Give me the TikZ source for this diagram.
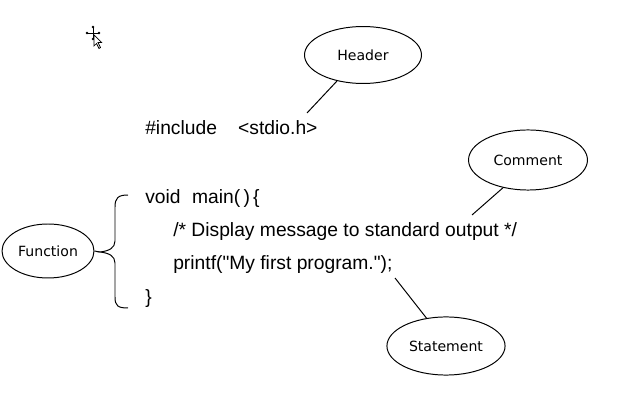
\documentclass[tikz,border=0pt]{standalone}
\usepackage{fontspec}
\setmainfont{Liberation Sans}
\newfontfamily\labelfont{DejaVu Sans}
\usetikzlibrary{shapes.geometric}

\tikzset{
  bubble/.style={draw,ellipse,line width=0.7pt,inner sep=0pt,font=\labelfont\fontsize{10}{12}\selectfont},
  code/.style={anchor=west,inner sep=0pt,font=\fontsize{13.7}{16}\selectfont},
  pointer/.style={line width=0.7pt}
}

\begin{document}
\begin{tikzpicture}[x=0.025cm,y=-0.025cm]
\useasboundingbox (0,0) rectangle (620,400);
% cursor
\draw[line width=0.6pt] (87,33)--(99,33) (93,27)--(93,39);
\foreach \p in {(87,33),(99,33),(93,27),(93,39)}{\fill \p circle (1.4);}
\draw[line width=0.5pt,fill=white] (94,35)--(94,46)--(96.5,43.5)--(99,48.5)--(100.5,47.5)--(98,42.5)--(101.5,42.5)--cycle;
% code lines
\node[code] (inc) at (145,128) {\#include\hspace{1.1em}<stdio.h>};
\node[code] (mainfn) at (145,199) {void\hspace{0.6em}main(\,)\,\{};
\node[code] (cmt) at (173,232) {/* Display message to standard output */};
\node[code] (stmt) at (173,265) {printf(\textquotedbl My first program.\textquotedbl);};
\node[code] (close) at (145,299) {\}};
% bubbles
\node[bubble,minimum width=83.2pt,minimum height=40.5pt] (header) at (363,55) {Header};
\node[bubble,minimum width=84.6pt,minimum height=42.7pt] (comment) at (528,160) {Comment};
\node[bubble,minimum width=84pt,minimum height=41.3pt] (statement) at (446,346) {Statement};
\node[bubble,minimum width=65.4pt,minimum height=38.4pt] (function) at (48,251) {Function};
% pointers
\coordinate (hend) at (307,113);
\coordinate (cend) at (472,215);
\coordinate (send) at (395,278);
\draw[pointer] (header.225)--(hend);
\draw[pointer] (comment.228)--(cend);
\draw[pointer] (statement.125)--(send);
% brace
\coordinate (btip) at (100,252);
\coordinate (btop) at (128,195);
\coordinate (bbot) at (128,308);
\draw[pointer] (function.east)--(btip);
\draw[pointer] (btop) .. controls (118,195) and (115,198) .. (115,207) -- (115,241)
  .. controls (115,248) and (109,251) .. (btip)
  .. controls (109,253) and (115,256) .. (115,263) -- (115,297)
  .. controls (115,306) and (118,308) .. (bbot);
\end{tikzpicture}
\end{document}
